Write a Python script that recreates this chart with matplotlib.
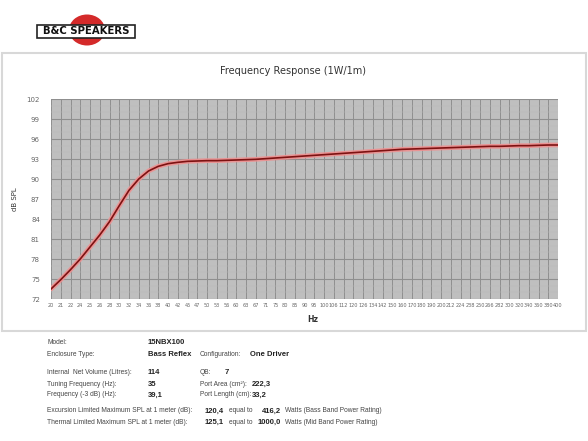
import numpy as np, matplotlib
matplotlib.use('Agg')
import matplotlib.pyplot as plt
import matplotlib.patches as mpatches

# frequency response (Hz, dB SPL)
freq_labels = ['20','21','22','24','25','26','28','30','32','34','36','38',
               '40','42','45','47','50','53','56','60','63','67','71','75',
               '80','85','90','95','100','106','112','120','126','134','142','150',
               '160','170','180','190','200','212','224','238','250','266','282','300',
               '320','340','360','380','400']
spl = [73.5, 74.9, 76.4, 78.0, 79.8, 81.6, 83.6, 86.0, 88.3, 90.0, 91.2, 91.9,
       92.3, 92.5, 92.65, 92.7, 92.75, 92.75, 92.8, 92.85, 92.9, 92.95, 93.05, 93.15,
       93.25, 93.35, 93.45, 93.55, 93.65, 93.75, 93.85, 93.95, 94.05, 94.15, 94.25, 94.35,
       94.45, 94.5, 94.55, 94.6, 94.65, 94.7, 94.75, 94.8, 94.85, 94.9, 94.9, 94.95,
       95.0, 95.0, 95.05, 95.1, 95.1]
y_ticks = [72, 75, 78, 81, 84, 87, 90, 93, 96, 99, 102]

# parameter table
rows_left = [('Model:', '15NBX100'), ('Enclosure Type:', 'Bass Reflex'),
             ('Internal  Net Volume (Litres):', '114'), ('Tuning Frequency (Hz):', '35'),
             ('Frequency (-3 dB) (Hz):', '39,1')]
rows_right = [('Configuration:', 'One Driver'), ('QB:', '7'),
              ('Port Area (cm²):', '222,3'), ('Port Length (cm):', '33,2')]
spl_rows = [('Excursion Limited Maximum SPL at 1 meter (dB):', '120,4', '416,2', 'Watts (Bass Band Power Rating)'),
            ('Thermal Limited Maximum SPL at 1 meter (dB):', '125,1', '1000,0', 'Watts (Mid Band Power Rating)')]

W, H = 588, 441
FONT = 'Liberation Sans'
fig = plt.figure(figsize=(W/100, H/100), dpi=100)
fig.patch.set_facecolor('white')
def fx(px): return px / W
def fy(py): return 1 - py / H

# logo
fig.patches.append(mpatches.Ellipse((fx(87), fy(30)), 36/W, 31/H, transform=fig.transFigure,
                                    facecolor='#d42a2a', edgecolor='none'))
fig.patches.append(mpatches.Rectangle((fx(37), fy(38)), 98/W, 13/H, transform=fig.transFigure,
                                      facecolor='white', edgecolor='#222222', linewidth=1.2))
fig.text(fx(86), fy(31.5), 'B&C SPEAKERS', ha='center', va='center', fontsize=7.3,
         fontweight='bold', color='#111111', family='Liberation Sans Narrow')

# chart frame
fig.patches.append(mpatches.Rectangle((fx(2), fy(331)), 584/W, 278/H, transform=fig.transFigure,
                                      facecolor='none', edgecolor='#d8d8d8', linewidth=1.5))
fig.text(fx(293), fy(71), 'Frequency Response (1W/1m)', ha='center', va='center',
         fontsize=7, color='#333333')

ax = fig.add_axes([fx(51), fy(299), (558-51)/W, (299-99)/H])
ax.set_facecolor('#bfbfbf')
ax.set_xscale('log')
xt = [20 * 2 ** (i / 12) for i in range(len(freq_labels))]
ax.set_xlim(xt[0], xt[-1]); ax.set_ylim(72, 102)
ax.set_xticks(xt); ax.set_xticklabels(freq_labels)
ax.xaxis.set_minor_locator(matplotlib.ticker.NullLocator())
ax.set_yticks(y_ticks)
ax.set_yticks(np.arange(72, 103, 1), minor=True)
ax.grid(True, which='major', axis='x', color='#8f8f8f', linewidth=0.7)
ax.grid(True, which='major', axis='y', color='#8f8f8f', linewidth=0.8)
ax.grid(True, which='minor', axis='y', color='#b8b8b8', linewidth=0.35)
ax.set_axisbelow(True)
ax.tick_params(axis='both', which='both', length=0, colors='#666666')
ax.tick_params(axis='x', labelsize=3.6, pad=3)
ax.tick_params(axis='y', labelsize=5, pad=8)
for s in ax.spines.values():
    s.set_visible(False)

x_curve = [20 * 2 ** (i / 12) for i in range(len(spl))]
ax.plot(x_curve, spl, color='#ee9090', linewidth=3.4, solid_capstyle='round', alpha=0.9)
ax.plot(x_curve, spl, color='#7e1212', linewidth=1.2)
ax.set_ylabel('dB SPL', fontsize=5, color='#333333', labelpad=6)
fig.text(fx(313), fy(320), 'Hz', ha='center', va='center', fontsize=5.5, fontweight='bold', color='#333333')

# table
lab_kw = dict(fontsize=4.8, color='#444444', va='center', family=FONT)
val_kw = dict(fontsize=5.5, color='#222222', fontweight='bold', va='center', family=FONT)
left_y = [343, 355, 373, 384, 395]
for (lab, val), yy in zip(rows_left, left_y):
    fig.text(fx(47), fy(yy), lab, **lab_kw)
    fig.text(fx(148), fy(yy), val, **val_kw)
right_y = [355, 373, 384, 395]
right_vx = [250, 225, 252, 252]
for (lab, val), yy, vx in zip(rows_right, right_y, right_vx):
    fig.text(fx(200), fy(yy), lab, **lab_kw)
    fig.text(fx(vx), fy(yy), val, **val_kw)
for (lab, v1, v2, unit), yy in zip(spl_rows, [411, 422]):
    fig.text(fx(47), fy(yy), lab, **lab_kw)
    fig.text(fx(205), fy(yy), v1, **val_kw)
    fig.text(fx(229), fy(yy), 'equal to', **lab_kw)
    fig.text(fx(281), fy(yy), v2, ha='right', **val_kw)
    fig.text(fx(285), fy(yy), unit, **lab_kw)

plt.savefig('out.png', dpi=100)
print('[OK] out.png')
